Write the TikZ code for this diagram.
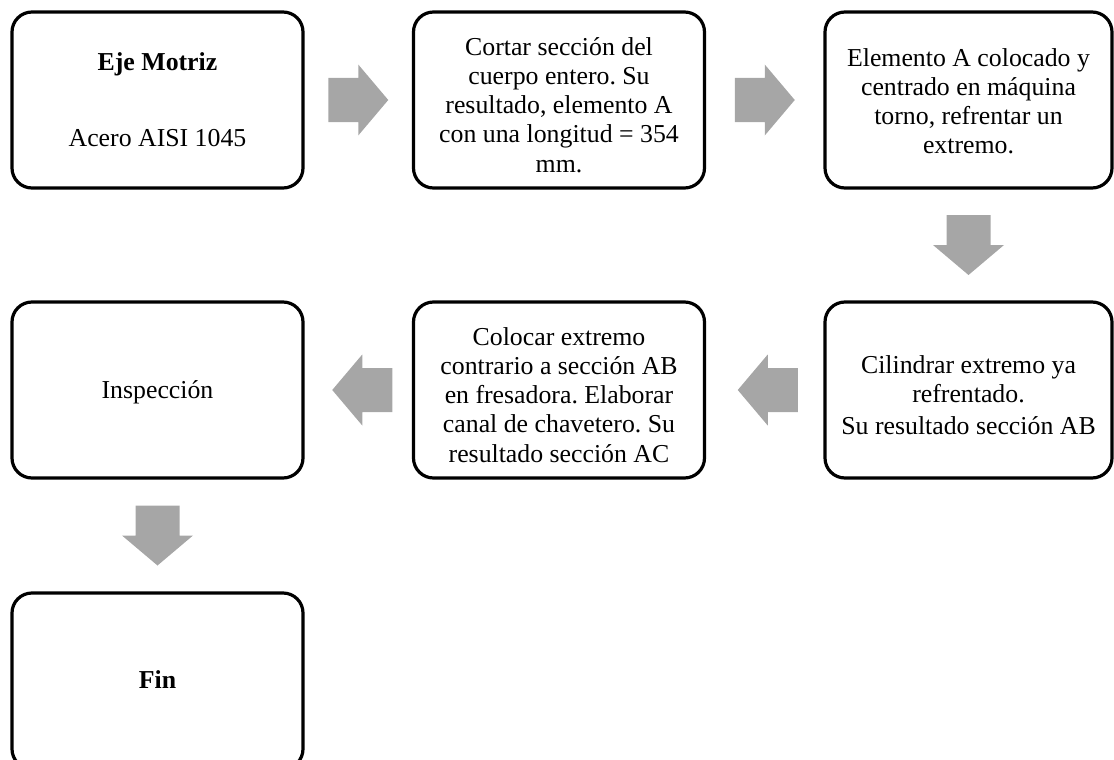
\documentclass[tikz,border=0pt]{standalone}
\usepackage{fontspec}
\setmainfont{Liberation Serif}
\usetikzlibrary{calc}
\definecolor{arrowgray}{HTML}{A6A6A6}
\frenchspacing
\tikzset{
  stepbox/.style={draw=black, line width=3.2pt, rounded corners=20pt,
    minimum width=291pt, minimum height=176pt, inner sep=0pt},
  boxtext/.style={align=center, inner sep=0pt,
    font=\fontsize{25.8}{29.2}\selectfont},
  blockarrow/.pic={
    \fill[arrowgray] (-30,-22) -- (0,-22) -- (0,-35.5) -- (30,0)
      -- (0,35.5) -- (0,22) -- (-30,22) -- cycle;
  }
}
\begin{document}
\begin{tikzpicture}[x=1pt,y=-1pt]
\useasboundingbox (0,0) rectangle (1114,760);

% process steps
\node[stepbox] (b1) at (157.5,100) {};
\node[stepbox] (b2) at (559,100) {};
\node[stepbox, minimum width=287pt] (b3) at (968.5,100) {};
\node[stepbox] (b4) at (157.5,390) {};
\node[stepbox] (b5) at (559,390) {};
\node[stepbox, minimum width=287pt] (b6) at (968.5,390) {};
\node[stepbox] (b7) at (157.5,681) {};

% step texts
\node[boxtext, anchor=north] (t1) at (157.5,52.2)
  {\textbf{Eje Motriz}\\[46.5pt]Acero AISI 1045};
\node[boxtext, anchor=north] (t2) at (559,37.2)
  {Cortar sección del\\cuerpo entero. Su\\resultado, elemento A\\con una longitud = 354\\mm.};
\node[boxtext, anchor=north] (t3) at (968.5,48.2)
  {Elemento A colocado y\\centrado en máquina\\torno, refrentar un\\extremo.};
\node[boxtext, anchor=base] (t4) at (157.5,398) {Inspección};
\node[boxtext, anchor=north] (t5) at (559,327.2)
  {Colocar extremo\\contrario a sección AB\\en fresadora. Elaborar\\canal de chavetero. Su\\resultado sección AC};
\node[boxtext, anchor=north] (t6) at (968.5,355.2)
  {Cilindrar extremo ya\\refrentado.\\[3pt]Su resultado sección AB};
\node[boxtext, anchor=base] (t7) at (157.5,688) {\textbf{Fin}};

% block arrows between steps
\pic at ($(b1.east)!0.5!(b2.west)$) {blockarrow};
\pic at ($(b2.east)!0.5!(b3.west)$) {blockarrow};
\pic[rotate=-90] at ($(b3.south)!0.5!(b6.north)$) {blockarrow};
\pic[rotate=180] at ($(b6.west)!0.5!(b5.east)+(3,0)$) {blockarrow};
\pic[rotate=180] at ($(b5.west)!0.5!(b4.east)+(4,0)$) {blockarrow};
\pic[rotate=-90] at ($(b4.south)!0.5!(b7.north)$) {blockarrow};
\end{tikzpicture}
\end{document}
